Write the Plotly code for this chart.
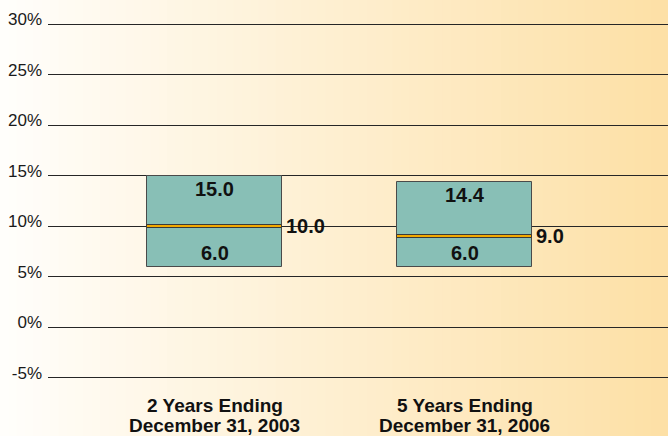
import plotly.graph_objects as go

# Return ranges for the two measurement periods
periods = ["2 Years Ending<br>December 31, 2003", "5 Years Ending<br>December 31, 2006"]
low = [6.0, 6.0]
high = [15.0, 14.4]
median = [10.0, 9.0]
y_ticks = [-5, 0, 5, 10, 15, 20, 25, 30]
y_tick_text = ["-5%", "0%", "5%", "10%", "15%", "20%", "25%", "30%"]

BOX_W = 0.54
MED_H = 0.35
FONT = "Liberation Sans, Arial, Helvetica, sans-serif"

fig = go.Figure()

# Range boxes (low to high)
fig.add_trace(go.Bar(
    x=periods, y=[h - l for h, l in zip(high, low)], base=low,
    width=BOX_W, marker=dict(color="#88bfb6", line=dict(color="#4a4a4a", width=1)),
    hoverinfo="skip", showlegend=False,
))
# Median bands
fig.add_trace(go.Bar(
    x=periods, y=[MED_H] * len(periods), base=[m - MED_H / 2 for m in median],
    width=BOX_W, marker=dict(color="#f2a900", line=dict(color="#3a3a3a", width=1)),
    hoverinfo="skip", showlegend=False,
))

label_font = dict(family=FONT, size=20, color="#111111")
for p, lo, hi, md in zip(periods, low, high, median):
    fig.add_annotation(x=p, y=hi, text=f"<b>{hi:.1f}</b>", showarrow=False,
                       yanchor="middle", yshift=-13.5, font=label_font)
    fig.add_annotation(x=p, y=lo, text=f"<b>{lo:.1f}</b>", showarrow=False,
                       yanchor="middle", yshift=14, font=label_font)
    fig.add_annotation(x=p, y=md, text=f"<b>{md:.1f}</b>", showarrow=False,
                       xanchor="left", yanchor="middle", xshift=BOX_W / 2 * 250 + 2,
                       font=label_font)

# Category labels below the axis, one annotation per line for tight line spacing
cat_font = dict(family=FONT, size=19, color="#111111", weight="bold")
for p in periods:
    for k, line in enumerate(p.split("<br>")):
        fig.add_annotation(x=p, y=0, yref="paper", text=line, showarrow=False,
                           yanchor="middle", yshift=-22 - 20 * k, borderpad=0,
                           font=cat_font)

# Horizontal background gradient: near white on the left to warm amber on the right
left_rgb = (255, 254, 251)
right_rgb = (253, 224, 166)
n = 80
x_start = -48 / 620
for i in range(n):
    t = i / (n - 1)
    c = tuple(round(a + (b - a) * t) for a, b in zip(left_rgb, right_rgb))
    x0 = x_start + (1 - x_start) * i / n
    x1 = x_start + (1 - x_start) * (i + 1) / n + 0.002
    fig.add_shape(type="rect", xref="paper", yref="paper", x0=x0, x1=x1,
                  y0=-1, y1=2, fillcolor=f"rgb{c}", line=dict(width=0), layer="below")

fig.update_layout(
    width=668, height=436,
    margin=dict(l=48, r=0, t=19, b=53),
    paper_bgcolor="#fffefb", plot_bgcolor="rgba(0,0,0,0)",
    barmode="overlay", bargap=0,
    font=dict(family=FONT, color="#1a1a1a"),
)
fig.update_xaxes(
    range=[-0.666, 1.814], showgrid=False, zeroline=False, showline=False,
    ticks="", showticklabels=False, automargin=False,
)
fig.update_yaxes(
    range=[-5.5, 30.5], tickvals=y_ticks, ticktext=y_tick_text,
    showgrid=True, gridcolor="#262626", gridwidth=1.3,
    zeroline=False, showline=False, ticks="",
    tickfont=dict(family=FONT, size=17, color="#1a1a1a"),
    ticklabelstandoff=5, ticklabelshift=-5, automargin=False,
)

fig.write_html("out.html")
